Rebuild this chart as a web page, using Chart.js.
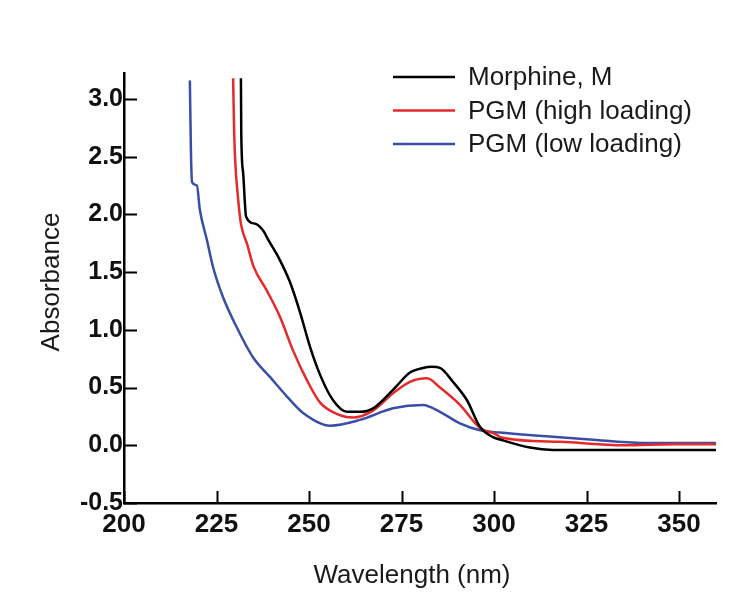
<!DOCTYPE html>
<html>
<head>
<meta charset="utf-8">
<script src="https://cdn.jsdelivr.net/npm/chart.js@4.4.1/dist/chart.umd.min.js"></script>
<style>
body{margin:0;background:#fff;}
</style>
</head>
<body>
<canvas id="spec" width="756" height="614"></canvas>
<script>
/* UV-vis spectra */
let seriesNames = ["Morphine, M", "PGM (high loading)", "PGM (low loading)"];
let seriesColors = ["#000000", "#e42a2a", "#3a4ea6"];

let morphWl = [231.6, 231.7, 232.2, 233.0, 235.4, 237.6, 239.0, 242.2, 244.9, 247.6, 250.3, 253.0, 256.5, 260.3, 263.8, 267.3, 272.7, 277.3, 280.8, 283.2, 285.4, 288.9, 292.7, 296.2, 299.7, 301.6, 309.7, 315.9, 330, 345, 360];
let morphAbs = [3.18, 2.69, 2.36, 1.98, 1.92, 1.86, 1.78, 1.60, 1.41, 1.15, 0.85, 0.61, 0.39, 0.29, 0.29, 0.32, 0.48, 0.63, 0.67, 0.68, 0.67, 0.55, 0.39, 0.16, 0.07, 0.05, -0.02, -0.04, -0.04, -0.04, -0.04];

let highWl = [229.5, 229.7, 230.0, 230.8, 231.6, 233.3, 235.0, 238.6, 242.2, 245.7, 249.5, 253.0, 258.4, 261.9, 267.3, 272.7, 277.3, 281.9, 285.4, 290.8, 296.2, 300.8, 301.6, 317.8, 334.9, 348.4, 360];
let highAbs = [3.18, 2.82, 2.50, 2.15, 1.92, 1.74, 1.55, 1.34, 1.11, 0.82, 0.56, 0.37, 0.26, 0.24, 0.30, 0.45, 0.55, 0.58, 0.50, 0.35, 0.15, 0.09, 0.07, 0.03, 0.00, 0.01, 0.01];

let lowWl = [217.8, 218.1, 218.4, 219.7, 220.5, 222.4, 224.1, 226.8, 230.5, 234.9, 239.5, 244.1, 248.4, 255.7, 263.8, 272.7, 280.8, 285.4, 290.8, 296.2, 301.6, 313.2, 325.9, 340.3, 360];
let lowAbs = [3.16, 2.53, 2.28, 2.25, 2.04, 1.78, 1.54, 1.28, 1.02, 0.76, 0.59, 0.42, 0.28, 0.17, 0.22, 0.32, 0.35, 0.29, 0.19, 0.13, 0.11, 0.08, 0.05, 0.02, 0.02];

let xTicks = [200, 225, 250, 275, 300, 325, 350];
let yTicks = [-0.5, 0.0, 0.5, 1.0, 1.5, 2.0, 2.5, 3.0];

function pts(wl, ab){
  return wl.map((w, i) => ({x: w, y: ab[i]}));
}

let allWl = [morphWl, highWl, lowWl];
let allAbs = [morphAbs, highAbs, lowAbs];

/* inner tick marks, axis titles and the legend box */
let decor = {
  id: "decor",
  afterDraw(chart){
    let g = chart.ctx;
    let xs = chart.scales.x, ys = chart.scales.y;
    let a = chart.chartArea;
    g.save();
    g.strokeStyle = "#000";
    g.lineWidth = 2;
    yTicks.forEach(v => {
      let py = Math.round(ys.getPixelForValue(v)) + 0.5;
      g.beginPath(); g.moveTo(a.left, py); g.lineTo(a.left + 13, py); g.stroke();
    });
    xTicks.forEach(v => {
      let px = Math.round(xs.getPixelForValue(v)) + 0.5;
      g.beginPath(); g.moveTo(px, a.bottom); g.lineTo(px, a.bottom - 12); g.stroke();
    });

    g.fillStyle = "#1a1a1a";
    g.font = "26px 'Liberation Sans', Arial, sans-serif";
    g.textAlign = "center";
    g.textBaseline = "middle";
    g.fillText("Wavelength (nm)", 412, 576);
    g.save();
    g.translate(52, 282);
    g.rotate(-Math.PI / 2);
    g.fillText("Absorbance", 0, 0);
    g.restore();

    g.textAlign = "left";
    chart.data.datasets.forEach((d, i) => {
      let ly = 77 + i * 33.5;
      g.strokeStyle = d.borderColor;
      g.lineWidth = 2.5;
      g.beginPath(); g.moveTo(393, ly); g.lineTo(455, ly); g.stroke();
      g.fillText(d.label, 468, ly + 1);
    });
    g.restore();
  }
};

new Chart(document.getElementById("spec"), {
  type: "line",
  data: {
    datasets: seriesNames.map((n, i) => ({
      label: n,
      data: pts(allWl[i], allAbs[i]),
      borderColor: seriesColors[i],
      borderWidth: 2.5,
      pointRadius: 0,
      cubicInterpolationMode: "monotone",
      fill: false
    }))
  },
  options: {
    responsive: false,
    animation: false,
    layout: { padding: { left: 0, top: 73, right: 40, bottom: 0 } },
    plugins: { legend: { display: false }, tooltip: { enabled: false } },
    scales: {
      x: {
        type: "linear",
        min: 200,
        max: 360,
        afterBuildTicks: s => { s.ticks = xTicks.map(v => ({value: v})); },
        afterFit: s => { s.height = 111; },
        grid: { display: false, drawTicks: false },
        border: { display: true, color: "#000", width: 2.5 },
        ticks: {
          color: "#111",
          padding: 6,
          maxRotation: 0,
          font: { family: "'Liberation Sans', Arial, sans-serif", size: 26, weight: "bold" }
        }
      },
      y: {
        min: -0.5,
        max: 3.225,
        afterBuildTicks: s => { s.ticks = yTicks.map(v => ({value: v})); },
        afterFit: s => { s.width = 124; },
        grid: { display: false, drawTicks: false },
        border: { display: true, color: "#000", width: 2.5 },
        ticks: {
          color: "#111",
          padding: 1,
          callback: v => v.toFixed(1),
          font: { family: "'Liberation Sans', Arial, sans-serif", size: 25, weight: "bold" }
        }
      }
    }
  },
  plugins: [decor]
});
</script>
</body>
</html>
